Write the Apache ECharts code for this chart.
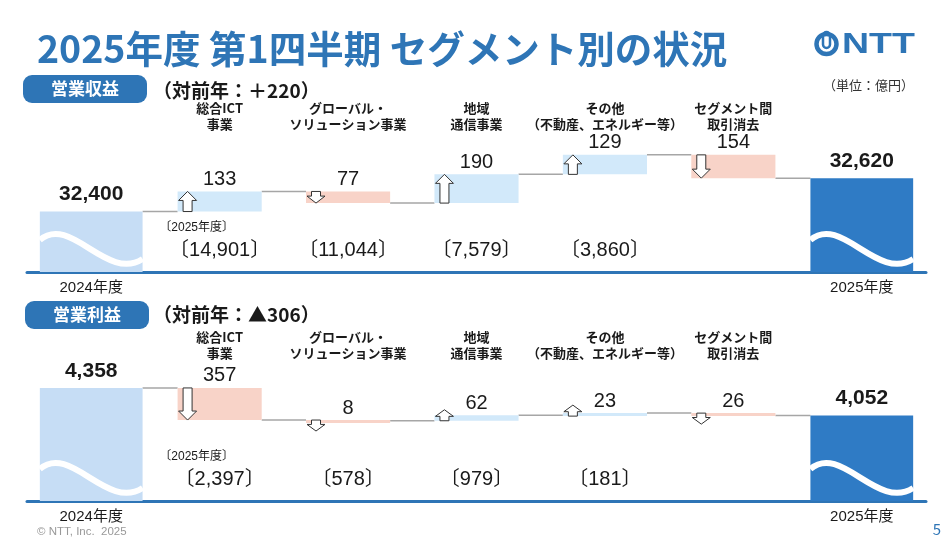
<!DOCTYPE html>
<html>
<head>
<meta charset="utf-8">
<script src="https://cdn.jsdelivr.net/npm/echarts@6/dist/echarts.min.js"></script>
<style>
  html, body { margin: 0; padding: 0; background: #fff; }
  #chart { width: 944px; height: 538px; }
</style>
</head>
<body>
<div id="chart"></div>
<script>
const jpFont = '"Noto Sans CJK JP", sans-serif';
const numFont = '"Liberation Sans", Arial, "Noto Sans CJK JP", sans-serif';
const blue = '#2E75B6';

// x axis categories
const segmentNames = ['', '総合ICT\n事業', 'グローバル・\nソリューション事業', '地域\n通信事業', 'その他\n（不動産、エネルギー等）', 'セグメント間\n取引消去', ''];
const yearLabels = ['2024年度', '', '', '', '', '', '2025年度'];

// 営業収益
const revenuePrev = 32400;
const revenueChange = [133, -77, 190, 129, -154];
const revenueNow = 32620;
const revenueSegment = [14901, 11044, 7579, 3860, null];

// 営業利益
const profitPrev = 4358;
const profitChange = [-357, -8, 62, 23, -26];
const profitNow = 4052;
const profitSegment = [2397, 578, 979, 181, null];

// 0: 2024 total, 1: up, 2: down, 3: 2025 total
const barColors = ['#C6DDF5', '#D2E9FA', '#F8D3C8', '#2F7BC5'];
const lastIndex = yearLabels.length - 1;

// row: [index, low, high, level after, label value, segment total, kind]
function buildRows(prev, changes, now, segValues) {
  const rows = [[0, prev, prev, prev, prev, 0, 0]];
  let level = prev;
  changes.forEach((c, k) => {
    const next = level + c;
    rows.push([k + 1, Math.min(level, next), Math.max(level, next), next, Math.abs(c), segValues[k] || 0, c >= 0 ? 1 : 2]);
    level = next;
  });
  rows.push([changes.length + 1, now, now, now, now, 0, 3]);
  return rows;
}

function txt(text, x, y, size, weight, family, fill) {
  return {
    type: 'text',
    style: {
      text, x, y,
      align: 'center', verticalAlign: 'middle',
      textAlign: 'center', textVerticalAlign: 'middle',
      font: `${weight} ${size}px ${family}`,
      fill: fill || '#1a1a1a'
    }
  };
}

function renderWaterfall(params, api) {
  const i = api.value(0);
  const kind = api.value(6);
  const isTotal = kind === 0 || kind === 3;
  const cs = params.coordSys;
  const base = cs.y + cs.height;
  const band = api.size([1, 0])[0];
  const w = band * (isTotal ? 0.8 : 0.655);
  const topPt = api.coord([i, api.value(2)]);
  const cx = topPt[0];
  const x = cx - w / 2;
  const yTop = topPt[1];
  let yBot = isTotal ? base : api.coord([i, api.value(1)])[1];
  if (yBot - yTop < 3) yBot = yTop + 3;
  const kids = [];

  // connector to next bar
  if (i < lastIndex) {
    const yA = api.coord([i, api.value(3)])[1];
    const nextCx = api.coord([i + 1, api.value(3)])[0];
    const nextW = band * (i + 1 === lastIndex ? 0.8 : 0.655);
    kids.push({
      type: 'line',
      shape: { x1: x + w, y1: yA, x2: nextCx - nextW / 2, y2: yA },
      style: { stroke: '#A6A6A6', lineWidth: 1.5 }
    });
  }

  kids.push({
    type: 'rect',
    shape: { x, y: yTop, width: w, height: yBot - yTop },
    style: { fill: barColors[kind] }
  });

  if (isTotal) {
    // white wave (broken bar)
    kids.push({
      type: 'bezierCurve',
      shape: {
        x1: x, y1: base - 32,
        cpx1: x + 0.3 * w, cpy1: base - 58,
        cpx2: x + 0.65 * w, cpy2: base + 10,
        x2: x + w, y2: base - 13
      },
      style: { stroke: '#fff', lineWidth: 6, fill: null }
    });
    kids.push(txt(api.value(4).toLocaleString('en-US'), cx, yTop - 17, 21, 'bold', numFont));
  } else {
    // hollow arrow
    const h = Math.max(yBot - yTop, 11);
    const hw = 18, sw = 9, hh = Math.min(9, h * 0.6);
    const ax = x + hw / 2 + 1;
    let pts;
    if (kind === 1) {
      const y0 = yBot, y1 = yBot - h;
      pts = [[ax - sw / 2, y0], [ax - sw / 2, y1 + hh], [ax - hw / 2, y1 + hh], [ax, y1],
        [ax + hw / 2, y1 + hh], [ax + sw / 2, y1 + hh], [ax + sw / 2, y0]];
    } else {
      const y0 = yTop, y1 = yTop + h;
      pts = [[ax - sw / 2, y0], [ax - sw / 2, y1 - hh], [ax - hw / 2, y1 - hh], [ax, y1],
        [ax + hw / 2, y1 - hh], [ax + sw / 2, y1 - hh], [ax + sw / 2, y0]];
    }
    kids.push({
      type: 'polygon',
      shape: { points: pts },
      style: { fill: '#fff', stroke: '#333', lineWidth: 1 }
    });
    kids.push(txt(String(api.value(4)), cx, yTop - 12, 20, 'normal', numFont));

    const fy = api.value(5);
    if (fy) kids.push(txt('〔' + fy.toLocaleString('en-US') + '〕', cx, base - 22, 20, 'normal', numFont));
    if (i === 1) kids.push(txt('〔2025年度〕', cx - 23, base - 44, 12, 'normal', numFont));
  }

  return { type: 'group', children: kids };
}

function xAxes(gridIndex) {
  return [
    {
      type: 'category', gridIndex, position: 'bottom', data: yearLabels,
      axisLine: { lineStyle: { color: blue, width: 3 } },
      axisTick: { show: false },
      axisLabel: { interval: 0, margin: 8, fontSize: 15, color: '#1a1a1a', fontFamily: numFont }
    },
    {
      type: 'category', gridIndex, position: 'top', data: segmentNames,
      axisLine: { show: false },
      axisTick: { show: false },
      axisLabel: { interval: 0, margin: 7, fontSize: 13, fontWeight: 'bold', lineHeight: 16, color: '#1a1a1a', fontFamily: jpFont }
    }
  ];
}

function graphicText(text, x, y, size, weight, fill, align, family) {
  return {
    type: 'text', x, y,
    style: {
      text,
      align: align || 'left', verticalAlign: 'middle',
      textAlign: align || 'left', textVerticalAlign: 'middle',
      font: `${weight} ${size}px ${family || jpFont}`,
      fill
    }
  };
}

function pill(label, x, y) {
  return {
    type: 'group',
    children: [
      { type: 'rect', shape: { x, y, width: 124, height: 28, r: 9 }, style: { fill: blue } },
      graphicText(label, x + 62, y + 14, 17, 'bold', '#fff', 'center')
    ]
  };
}

const chart = echarts.init(document.getElementById('chart'));

chart.setOption({
  backgroundColor: '#fff',
  animation: false,
  grid: [
    { left: 27, right: 18, top: 139, bottom: 266 },
    { left: 27, right: 18, top: 368, bottom: 37 }
  ],
  xAxis: [...xAxes(0), ...xAxes(1)],
  yAxis: [
    { type: 'value', gridIndex: 0, min: 32000, max: 32880, show: false },
    { type: 'value', gridIndex: 1, min: 3100, max: 4580, show: false }
  ],
  series: [
    {
      type: 'custom', xAxisIndex: 0, yAxisIndex: 0, clip: false, silent: true,
      renderItem: renderWaterfall,
      encode: { x: 0, y: [1, 2] },
      data: buildRows(revenuePrev, revenueChange, revenueNow, revenueSegment)
    },
    {
      type: 'custom', xAxisIndex: 2, yAxisIndex: 1, clip: false, silent: true,
      renderItem: renderWaterfall,
      encode: { x: 0, y: [1, 2] },
      data: buildRows(profitPrev, profitChange, profitNow, profitSegment)
    }
  ],
  graphic: [
    graphicText('2025年度 第1四半期 セグメント別の状況', 37, 49, 37.5, 'bold', blue),
    // NTT logo
    { type: 'circle', shape: { cx: 826.5, cy: 44, r: 10 }, style: { fill: null, stroke: blue, lineWidth: 4.5 } },
    { type: 'rect', shape: { x: 823, y: 32, width: 7, height: 16, r: 3.5 }, style: { fill: null, stroke: blue, lineWidth: 2.5 } },
    {
      type: 'text', x: 842, y: 45, scaleX: 1.25,
      style: { text: 'NTT', font: `bold 30px ${numFont}`, fill: blue, verticalAlign: 'middle', textVerticalAlign: 'middle' }
    },
    graphicText('（単位：億円）', 823, 85, 13, 'normal', '#333'),
    pill('営業収益', 23, 75),
    graphicText('（対前年：＋220）', 153, 91, 19, 'bold', '#1a1a1a'),
    pill('営業利益', 25, 301),
    graphicText('（対前年：▲306）', 153, 315, 19, 'bold', '#1a1a1a'),
    graphicText('© NTT, Inc.  2025', 37, 532, 11.5, 'normal', '#999', 'left', numFont),
    graphicText('5', 937, 529, 15, 'normal', blue, 'center')
  ]
});
</script>
</body>
</html>
